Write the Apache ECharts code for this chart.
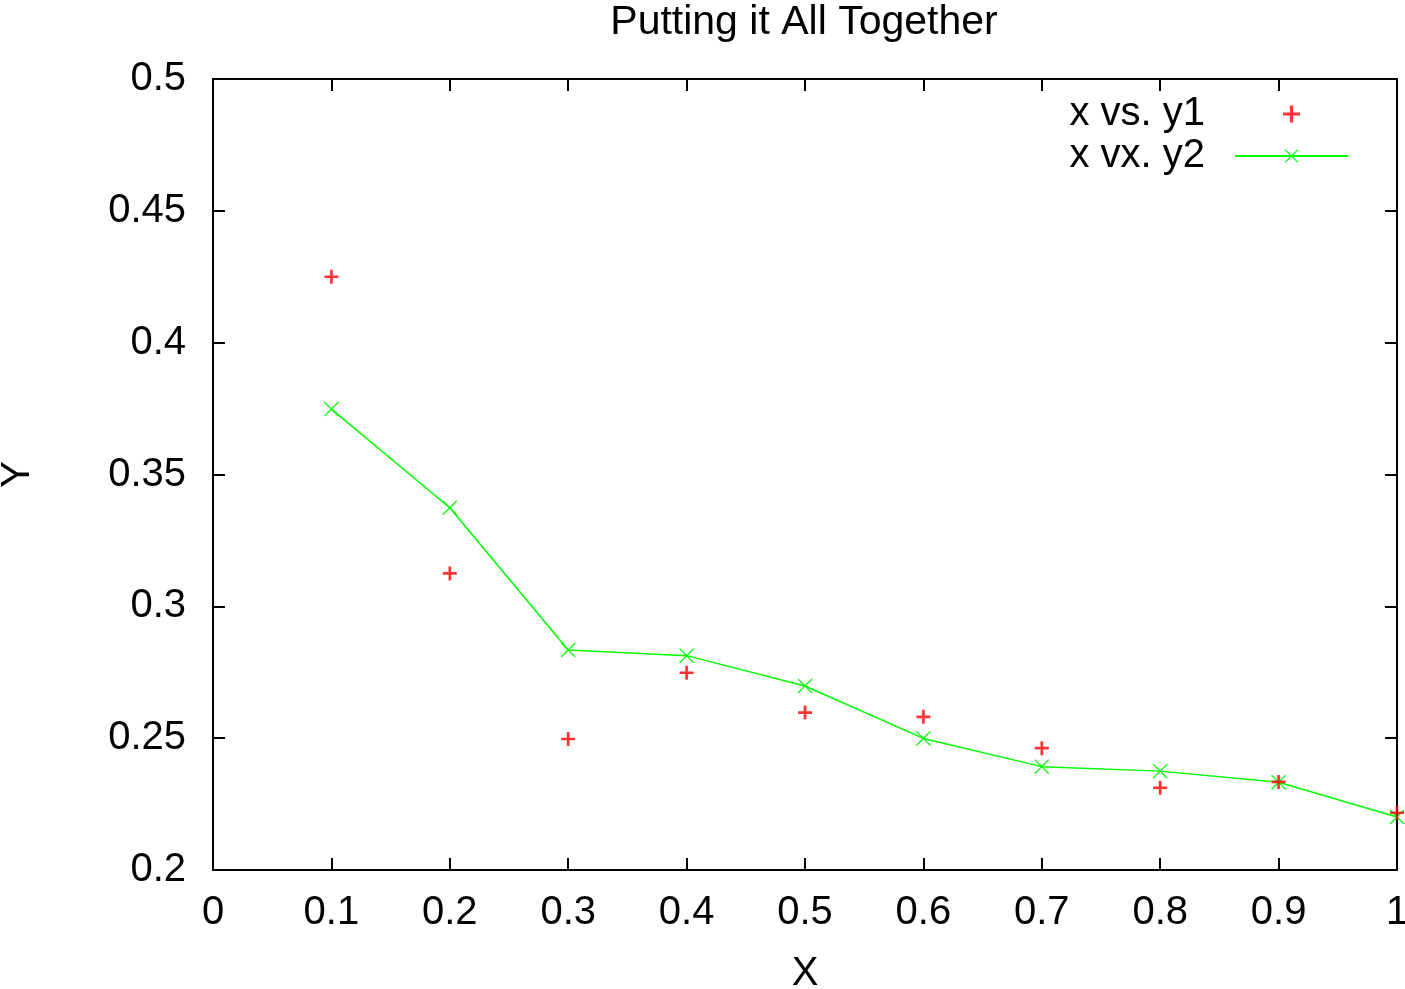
<!DOCTYPE html>
<html>
<head>
<meta charset="utf-8">
<script src="https://cdn.jsdelivr.net/npm/echarts@6/dist/echarts.min.js"></script>
<style>
html,body{margin:0;padding:0;background:#fff;}
#chart{width:1405px;height:989px;}
</style>
</head>
<body>
<div id="chart"></div>
<script>
const xs = [0.1, 0.2, 0.3, 0.4, 0.5, 0.6, 0.7, 0.8, 0.9, 1.0];
const y1 = [0.425, 0.3125, 0.2497, 0.2748, 0.2597, 0.2581, 0.2462, 0.2312, 0.2334, 0.2217];
const y2 = [0.3748, 0.3374, 0.2834, 0.2813, 0.2698, 0.2499, 0.2392, 0.2375, 0.2333, 0.2201];
const seriesNames = ['x vs. y1', 'x vx. y2'];
const titleText = 'Putting it All Together';

const FONT = '"Liberation Sans", Arial, Helvetica, sans-serif';
const plusPath = 'path://M4.05,0H5.95V4.05H10V5.95H5.95V10H4.05V5.95H0V4.05H4.05Z';
const crossPath = 'path://M0,0.6L0.6,0L5,4.4L9.4,0L10,0.6L5.6,5L10,9.4L9.4,10L5,5.6L0.6,10L0,9.4L4.4,5Z';

const chart = echarts.init(document.getElementById('chart'), null, {renderer: 'canvas'});

const baseAxisLine = {show: true, onZero: false, lineStyle: {color: '#000', width: 2}};
const baseTick = {show: true, inside: true, length: 12, lineStyle: {color: '#000', width: 2}};

chart.setOption({
  animation: false,
  backgroundColor: '#fff',
  title: {
    text: titleText,
    left: 799,
    textAlign: 'center',
    top: -3,
    textStyle: {fontFamily: FONT, fontSize: 41, fontWeight: 'normal', color: '#000'}
  },
  legend: {
    orient: 'vertical',
    right: 51,
    top: 89,
    align: 'right',
    itemWidth: 113,
    itemHeight: 17,
    itemGap: 2,
    selectedMode: false,
    textStyle: {fontFamily: FONT, fontSize: 40, color: '#000', lineHeight: 40, padding: [0, 25, 0, 0]},
    data: seriesNames
  },
  grid: {left: 213, right: 8, top: 79, bottom: 119, containLabel: false, outerBoundsMode: 'none'},
  xAxis: [{
    type: 'value', min: 0, max: 1, interval: 0.1,
    name: 'X', nameLocation: 'middle', nameGap: 84,
    nameTextStyle: {fontFamily: FONT, fontSize: 40, color: '#000'},
    axisLine: baseAxisLine, axisTick: baseTick,
    axisLabel: {fontFamily: FONT, fontSize: 40, color: '#000', margin: 23},
    splitLine: {show: false}
  }, {
    type: 'value', min: 0, max: 1, interval: 0.1, position: 'top',
    axisLine: baseAxisLine, axisTick: baseTick,
    axisLabel: {show: false}, splitLine: {show: false}
  }],
  yAxis: [{
    type: 'value', min: 0.2, max: 0.5, interval: 0.05,
    name: 'Y', nameLocation: 'middle', nameGap: 175, nameRotate: 90,
    nameTextStyle: {fontFamily: FONT, fontSize: 40, color: '#000'},
    axisLine: baseAxisLine, axisTick: baseTick,
    axisLabel: {fontFamily: FONT, fontSize: 40, color: '#000', margin: 27},
    splitLine: {show: false}
  }, {
    type: 'value', min: 0.2, max: 0.5, interval: 0.05, position: 'right',
    axisLine: baseAxisLine, axisTick: baseTick,
    axisLabel: {show: false}, splitLine: {show: false}
  }],
  series: [{
    name: seriesNames[0],
    type: 'scatter',
    symbol: plusPath,
    symbolSize: 14,
    symbolKeepAspect: true,
    itemStyle: {color: '#ff0000'},
    data: xs.map((x, i) => [x, y1[i]]),
    clip: false,
    z: 3
  }, {
    name: seriesNames[1],
    type: 'line',
    symbol: crossPath,
    symbolSize: 15,
    showSymbol: true,
    symbolKeepAspect: true,
    itemStyle: {color: '#00ff00'},
    lineStyle: {color: '#00ff00', width: 1.5},
    data: xs.map((x, i) => [x, y2[i]]),
    clip: false,
    z: 2
  }]
});
</script>
</body>
</html>
